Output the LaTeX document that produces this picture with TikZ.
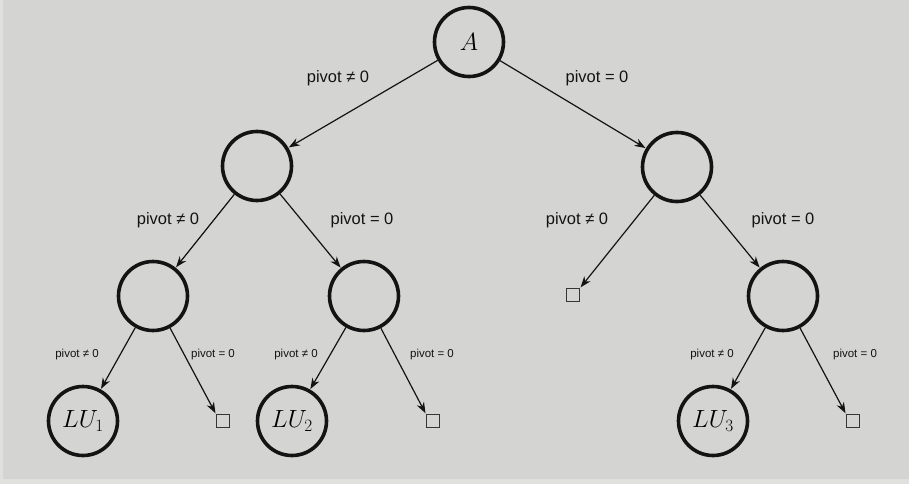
\documentclass[tikz,border=0pt]{standalone}
\usepackage{fontspec}
\setmainfont{Liberation Sans}
\usetikzlibrary{arrows.meta}
\definecolor{bggray}{HTML}{D4D5D3}
\definecolor{edgegray}{HTML}{E0E0DF}
\definecolor{ink}{HTML}{131313}
\tikzset{
  state/.style={circle, draw=ink, line width=3.6pt, minimum size=69pt, inner sep=0pt,
                font=\fontsize{27}{30}\selectfont},
  leaf/.style={rectangle, draw=ink!85, line width=1.5pt, minimum size=13pt, inner sep=0pt},
  branch/.style={draw=ink, line width=1.2pt,
                 -{Stealth[length=11pt,width=8pt,inset=3.5pt]}, shorten >=0.5pt},
  biglabel/.style={font=\fontsize{16.5}{18}\selectfont, text=ink, inner sep=0pt},
  smalllabel/.style={font=\fontsize{11.5}{13}\selectfont, text=ink, inner sep=0pt}
}
\begin{document}
\begin{tikzpicture}[x=1pt, y=-1pt]
  % canvas
  \fill[edgegray] (0,0) rectangle (909,484);
  \fill[bggray] (3,0) rectangle (909,479);
  \useasboundingbox (0,0) rectangle (909,484);

  % tree nodes
  \node[state] (root) at (469,42) {$A$};
  \node[state] (l)    at (257,166) {};
  \node[state] (r)    at (677,167) {};
  \node[state] (ll)   at (153,296) {};
  \node[state] (lr)   at (364,296) {};
  \node[leaf]  (rl)   at (573,295) {};
  \node[state] (rr)   at (783,296) {};
  \node[state] (lu1)  at (83,421) {$LU_1$};
  \node[leaf]  (s1)   at (223,421) {};
  \node[state] (lu2)  at (292,421) {$LU_2$};
  \node[leaf]  (s2)   at (433,421) {};
  \node[state] (lu3)  at (713,421) {$LU_3$};
  \node[leaf]  (s3)   at (853,421) {};

  % branches
  \draw[branch] (root) -- (l);
  \draw[branch] (root) -- (r);
  \draw[branch] (l) -- (ll);
  \draw[branch] (l) -- (lr);
  \draw[branch] (r) -- (rl.north east);
  \draw[branch] (r) -- (rr);
  \draw[branch] (ll) -- (lu1);
  \draw[branch] (ll) -- (s1.north west);
  \draw[branch] (lr) -- (lu2);
  \draw[branch] (lr) -- (s2.north west);
  \draw[branch] (rr) -- (lu3);
  \draw[branch] (rr) -- (s3.north west);

  % branch labels
  \node[biglabel] (t1) at (338,78) {pivot ≠ 0};
  \node[biglabel] (t2) at (597,78) {pivot = 0};
  \node[biglabel] (t3) at (168,220) {pivot ≠ 0};
  \node[biglabel] (t4) at (362,220) {pivot = 0};
  \node[biglabel] (t5) at (577,220) {pivot ≠ 0};
  \node[biglabel] (t6) at (783,220) {pivot = 0};
  \node[smalllabel] (u1) at (77,355) {pivot ≠ 0};
  \node[smalllabel] (u2) at (213,355) {pivot = 0};
  \node[smalllabel] (u3) at (296,355) {pivot ≠ 0};
  \node[smalllabel] (u4) at (432,355) {pivot = 0};
  \node[smalllabel] (u5) at (712,355) {pivot ≠ 0};
  \node[smalllabel] (u6) at (855,355) {pivot = 0};
\end{tikzpicture}
\end{document}
